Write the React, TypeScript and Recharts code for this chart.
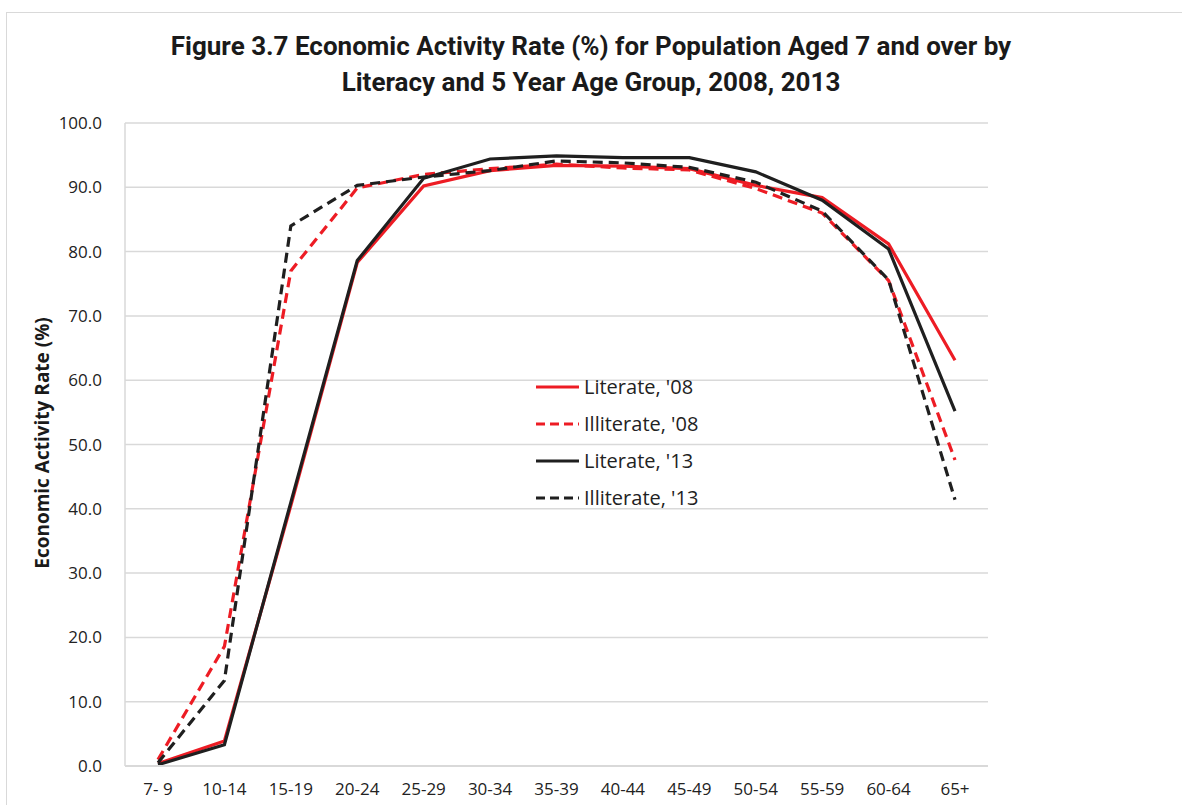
import { LineChart, Line, XAxis, YAxis, CartesianGrid } from 'recharts'

const RED = '#ed1c24'
const BLACK = '#1f1f1f'
const GRID = '#d9d9d9'

const ageGroups = ['7- 9', '10-14', '15-19', '20-24', '25-29', '30-34', '35-39', '40-44', '45-49', '50-54', '55-59', '60-64', '65+']
const literate08 = [0.4, 3.9, 40.5, 78.3, 90.2, 92.6, 93.4, 93.3, 92.9, 90.3, 88.4, 81.2, 63.1]
const illiterate08 = [1.0, 18.6, 77.0, 89.9, 92.0, 92.9, 93.6, 93.0, 92.7, 89.8, 86.0, 75.5, 47.6]
const literate13 = [0.2, 3.3, 41.0, 78.6, 91.4, 94.4, 94.9, 94.6, 94.6, 92.4, 88.0, 80.4, 55.2]
const illiterate13 = [0.5, 13.3, 84.0, 90.3, 91.6, 92.6, 94.1, 93.8, 93.1, 90.8, 86.3, 75.6, 41.4]
const yTicks = [0, 10, 20, 30, 40, 50, 60, 70, 80, 90, 100]

const data = ageGroups.map((age, i) => ({
  age,
  lit08: literate08[i],
  ill08: illiterate08[i],
  lit13: literate13[i],
  ill13: illiterate13[i],
}))

const series = [
  { key: 'lit08', name: "Literate, '08", color: RED, dash: undefined },
  { key: 'ill08', name: "Illiterate, '08", color: RED, dash: '10 6' },
  { key: 'lit13', name: "Literate, '13", color: BLACK, dash: undefined },
  { key: 'ill13', name: "Illiterate, '13", color: BLACK, dash: '10 6' },
]

const FONT = "'Open Sans', 'Noto Sans', sans-serif"

// legenda fora do LineChart: o <Legend> vertical à esquerda empurra a área do gráfico
function LegendBox() {
  return (
    <div style={{ position: 'absolute', left: 535, top: 368, fontFamily: FONT }}>
      {series.map((s) => (
        <div key={s.key} style={{ display: 'flex', alignItems: 'center', height: 37 }}>
          <svg width={46} height={8} style={{ marginRight: 3 }}>
            <line x1={1} y1={4} x2={44} y2={4} stroke={s.color} strokeWidth={3.2} strokeDasharray={s.dash ? '9 5' : undefined} />
          </svg>
          <span style={{ fontSize: 20, color: '#222' }}>{s.name}</span>
        </div>
      ))}
    </div>
  )
}

export default function App() {
  return (
    <div style={{ position: 'absolute', left: 0, top: 0, width: 1182, height: 805, overflow: 'hidden', background: '#fff' }}>
      <div style={{ position: 'absolute', left: 6, top: 12, width: 1200, height: 820, border: `1.5px solid ${GRID}` }} />
      <div
        style={{
          position: 'absolute',
          left: 0,
          top: 28,
          width: 1182,
          textAlign: 'center',
          fontFamily: "'Roboto', sans-serif",
          fontWeight: 700,
          fontSize: 26,
          lineHeight: '36px',
          color: '#1a1a1a',
        }}
      >
        Figure 3.7 Economic Activity Rate (%) for Population Aged 7 and over by
        <br />
        Literacy and 5 Year Age Group, 2008, 2013
      </div>
      <div
        style={{
          position: 'absolute',
          left: 42,
          top: 443,
          transform: 'translate(-50%, -50%) rotate(-90deg)',
          whiteSpace: 'nowrap',
          fontFamily: FONT,
          fontWeight: 700,
          fontSize: 19,
          color: '#1a1a1a',
        }}
      >
        Economic Activity Rate (%)
      </div>
      <div style={{ position: 'absolute', left: 0, top: 0 }}>
        <LineChart width={1182} height={805} data={data} margin={{ top: 123, right: 194, left: 0, bottom: 0 }}>
          <CartesianGrid vertical={false} stroke={GRID} strokeWidth={1.5} />
          <XAxis
            dataKey="age"
            height={39}
            padding={{ left: 33, right: 33 }}
            axisLine={{ stroke: GRID, strokeWidth: 2 }}
            tickLine={false}
            tickSize={0}
            tickMargin={17}
            interval={0}
            tick={{ fontSize: 17, fill: '#222', fontFamily: FONT }}
          />
          <YAxis
            width={125}
            domain={[0, 100]}
            ticks={yTicks}
            tickFormatter={(v: number) => v.toFixed(1)}
            axisLine={{ stroke: GRID, strokeWidth: 1.5 }}
            tickLine={false}
            tickSize={0}
            tickMargin={23}
            tick={{ fontSize: 17, fill: '#222', fontFamily: FONT }}
          />
          {series.map((s) => (
            <Line
              key={s.key}
              type="linear"
              dataKey={s.key}
              name={s.name}
              stroke={s.color}
              strokeWidth={3.2}
              strokeDasharray={s.dash}
              dot={false}
              activeDot={false}
              isAnimationActive={false}
            />
          ))}
        </LineChart>
      </div>
      <LegendBox />
    </div>
  )
}
